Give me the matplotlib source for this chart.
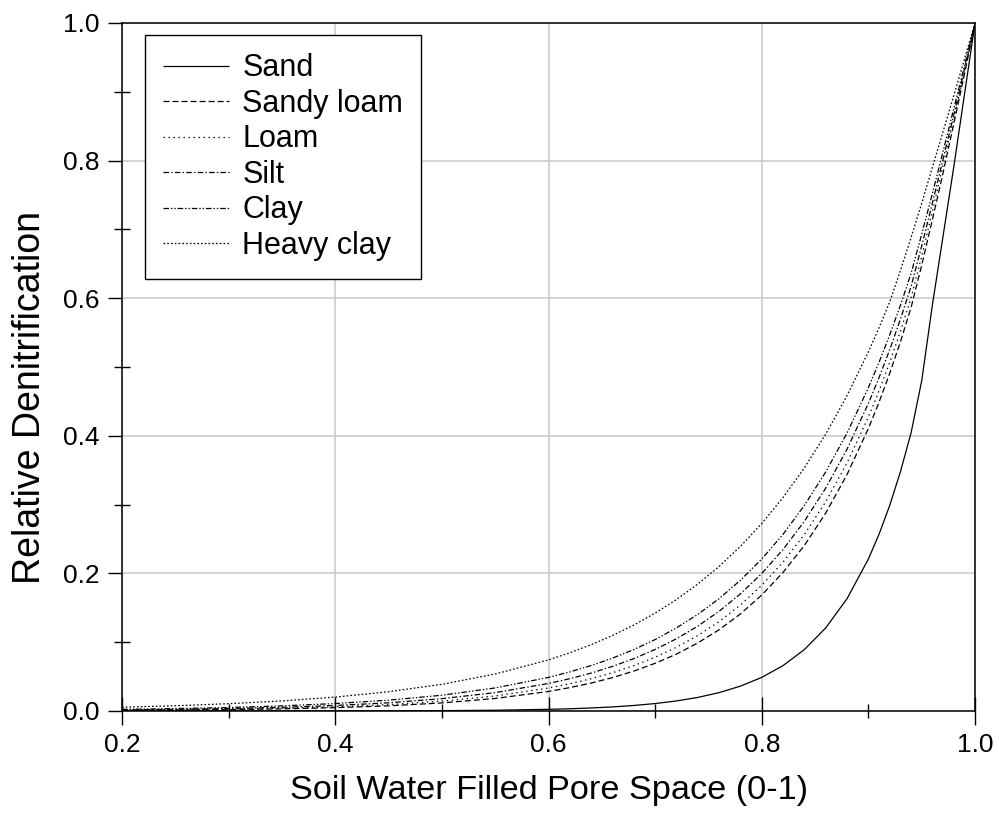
import matplotlib
matplotlib.use("Agg")
from matplotlib import pyplot as plt
from matplotlib.ticker import MultipleLocator

# water filled pore space (x) shared by all curves
wfps = [0.20, 0.25, 0.30, 0.35, 0.40, 0.45, 0.50, 0.55,
        0.60, 0.62, 0.64, 0.66, 0.68, 0.70, 0.72, 0.74, 0.76, 0.78,
        0.80, 0.82, 0.84, 0.86, 0.88, 0.90,
        0.91, 0.92, 0.93, 0.94, 0.95, 0.96, 0.97, 0.98, 0.99, 1.00]

sand = [0.0000, 0.0000, 0.0000, 0.0001, 0.0001, 0.0003, 0.0005, 0.0011,
        0.0024, 0.0032, 0.0044, 0.0059, 0.0080, 0.0108, 0.0146, 0.0197, 0.0267, 0.0361,
        0.0488, 0.0660, 0.0893, 0.1208, 0.1633, 0.2209,
        0.2569, 0.2988, 0.3475, 0.4041, 0.4800, 0.5900, 0.6900, 0.7900, 0.8950, 1.0000]
sandy_loam = [0.0008, 0.0013, 0.0020, 0.0031, 0.0048, 0.0075, 0.0117, 0.0182,
              0.0284, 0.0340, 0.0406, 0.0485, 0.0580, 0.0693, 0.0827, 0.0989, 0.1181, 0.1411,
              0.1686, 0.2015, 0.2407, 0.2877, 0.3437, 0.4107,
              0.4489, 0.4907, 0.5364, 0.5863, 0.6480, 0.7140, 0.7820, 0.8530, 0.9250, 1.0000]
loam = [0.0011, 0.0017, 0.0026, 0.0040, 0.0061, 0.0093, 0.0143, 0.0218,
        0.0334, 0.0396, 0.0469, 0.0556, 0.0659, 0.0781, 0.0926, 0.1097, 0.1300, 0.1541,
        0.1827, 0.2165, 0.2567, 0.3042, 0.3606, 0.4274,
        0.4653, 0.5066, 0.5516, 0.6005, 0.6610, 0.7260, 0.7930, 0.8600, 0.9290, 1.0000]
silt = [0.0016, 0.0024, 0.0036, 0.0053, 0.0080, 0.0119, 0.0179, 0.0267,
        0.0400, 0.0469, 0.0551, 0.0648, 0.0761, 0.0894, 0.1050, 0.1233, 0.1449, 0.1702,
        0.1999, 0.2348, 0.2758, 0.3240, 0.3806, 0.4471,
        0.4846, 0.5252, 0.5692, 0.6169, 0.6760, 0.7380, 0.8020, 0.8660, 0.9320, 1.0000]
clay = [0.0024, 0.0035, 0.0051, 0.0074, 0.0108, 0.0157, 0.0229, 0.0335,
        0.0488, 0.0568, 0.0660, 0.0768, 0.0893, 0.1038, 0.1208, 0.1404, 0.1633, 0.1900,
        0.2209, 0.2569, 0.2988, 0.3475, 0.4041, 0.4700,
        0.5069, 0.5466, 0.5895, 0.6357, 0.6930, 0.7520, 0.8130, 0.8750, 0.9370, 1.0000]
heavy_clay = [0.0055, 0.0076, 0.0106, 0.0146, 0.0202, 0.0280, 0.0388, 0.0537,
              0.0743, 0.0846, 0.0963, 0.1097, 0.1249, 0.1423, 0.1620, 0.1845, 0.2101, 0.2393,
              0.2725, 0.3104, 0.3535, 0.4025, 0.4584, 0.5220,
              0.5571, 0.5945, 0.6400, 0.6880, 0.7380, 0.7900, 0.8420, 0.8940, 0.9470, 1.0000]

names = ["Sand", "Sandy loam", "Loam", "Silt", "Clay", "Heavy clay"]
series = [sand, sandy_loam, loam, silt, clay, heavy_clay]
# dash patterns in points (scale_dashes off)
styles = [(0, ()), (0, (4.3, 2.2)), (0, (1.0, 2.6)), (0, (4.0, 1.6, 1.0, 1.6)),
          (0, (4.0, 1.4, 1.0, 1.4, 1.0, 1.4)), (0, (1.2, 1.5))]

plt.rcParams["font.family"] = ["Liberation Sans", "DejaVu Sans"]
plt.rcParams["lines.scale_dashes"] = False

fig = plt.figure(figsize=(9.99, 8.21), dpi=100)
ax = fig.add_axes([0.1221, 0.134, 0.8539, 0.838])

for y, name, ls in zip(series, names, styles):
    ax.plot(wfps, y, color="black", lw=0.9, linestyle=ls, label=name)

ax.set_xlim(0.2, 1.0)
ax.set_ylim(0.0, 1.0)
ax.xaxis.set_major_locator(MultipleLocator(0.2))
ax.xaxis.set_minor_locator(MultipleLocator(0.1))
ax.yaxis.set_major_locator(MultipleLocator(0.2))
ax.yaxis.set_minor_locator(MultipleLocator(0.1))
ax.xaxis.set_major_formatter(plt.FormatStrFormatter("%.1f"))
ax.yaxis.set_major_formatter(plt.FormatStrFormatter("%.1f"))

ax.grid(True, which="major", color="#c8c8c8", lw=1.1)
ax.set_axisbelow(True)
for s in ax.spines.values():
    s.set_linewidth(1.1)
    s.set_color("black")

ax.tick_params(axis="x", which="major", direction="inout", length=20, width=1.0,
               labelsize=19, pad=6)
ax.tick_params(axis="x", which="minor", direction="inout", length=10, width=1.0)
ax.tick_params(axis="y", which="major", direction="out", length=10, width=1.0,
               labelsize=19, pad=6)
ax.tick_params(axis="y", which="minor", direction="inout", length=11, width=1.0)

ax.set_xlabel("Soil Water Filled Pore Space (0-1)", fontsize=24.7, labelpad=13)
ax.set_ylabel("Relative Denitrification", fontsize=27)
ax.yaxis.set_label_coords(-0.087, 0.455)

leg = ax.legend(loc="upper left", fontsize=22, frameon=True, fancybox=False,
                edgecolor="black", framealpha=1, handlelength=2.15,
                handletextpad=0.43, labelspacing=0.18, borderpad=0.6,
                borderaxespad=0, bbox_to_anchor=(0.027, 0.9826))
leg.get_frame().set_linewidth(1.0)

fig.savefig("out.png", dpi=100)
